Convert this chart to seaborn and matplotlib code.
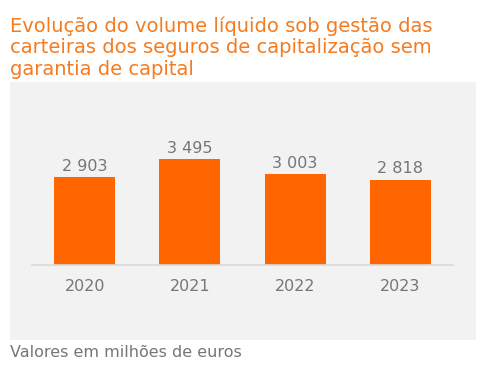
import pandas as pd
import seaborn as sns
import matplotlib.pyplot as plt
from matplotlib.patches import Rectangle

# Volume líquido sob gestão (milhões de euros)
years = ["2020", "2021", "2022", "2023"]
volumes = [2903, 3495, 3003, 2818]
labels = ["2 903", "3 495", "3 003", "2 818"]

title = "Evolução do volume líquido sob gestão das\ncarteiras dos seguros de capitalização sem\ngarantia de capital"
note = "Valores em milhões de euros"

df = pd.DataFrame({"ano": years, "volume": volumes})

W, H = 496, 375
ORANGE = "#FF6600"
TITLE_ORANGE = "#F47B20"
GREY = "#767676"

sns.set_style("white")
plt.rcParams['font.family'] = ['DejaVu Sans']

fig = plt.figure(figsize=(W / 100, H / 100), dpi=100)

# grey panel behind the chart
fig.patches.append(Rectangle((10 / W, 1 - 340 / H), 466 / W, 258 / H,
                             transform=fig.transFigure, facecolor="#F2F2F2",
                             edgecolor="none", zorder=-10))

# axes: x 32..453 px, baseline at y=265 px
ax = fig.add_axes([32 / W, 1 - 265 / H, 421 / W, 165 / H])
ax.patch.set_visible(False)
sns.barplot(data=df, x="ano", y="volume", color=ORANGE, saturation=1,
            width=0.58, linewidth=0, ax=ax)
ax.set_xlim(-0.5, 3.5)
ax.set_ylim(0, 5450)

for i, (v, lab) in enumerate(zip(volumes, labels)):
    ax.text(i, v + 110, lab, ha="center", va="bottom", fontsize=11.5, color=GREY)

for s in ["top", "right", "left"]:
    ax.spines[s].set_visible(False)
ax.spines["bottom"].set_color("#D9D9D9")
ax.spines["bottom"].set_linewidth(1.2)
ax.set_yticks([])
ax.set_xlabel("")
ax.set_ylabel("")
ax.tick_params(axis="x", length=0, pad=10, labelsize=11.5, labelcolor=GREY)

fig.text(10 / W, 1 - 75 / H, title, ha="left", va="baseline", fontsize=14,
         color=TITLE_ORANGE, linespacing=1.18)
fig.text(10 / W, 1 - 357 / H, note, ha="left", va="baseline", fontsize=11.5,
         color=GREY)

fig.savefig("out.png", dpi=100)
